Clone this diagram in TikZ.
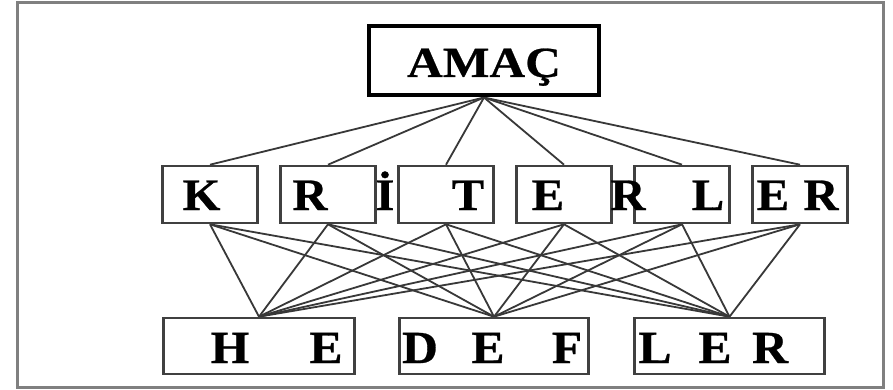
\documentclass[tikz,border=0pt]{standalone}
\usepackage{fontspec}
\setmainfont{Liberation Serif}
\newfontfamily\amacfont[FakeStretch=1.15,FakeBold=0.6]{Liberation Serif}
\newfontfamily\letterfont[FakeStretch=1.08,FakeBold=0.6]{Liberation Serif}
\begin{document}
\begin{tikzpicture}[x=1pt,y=-1pt,
  topbox/.style={draw=black,line width=4pt,fill=white,minimum width=230pt,minimum height=69pt,inner sep=0pt},
  critbox/.style={draw=black!75,line width=2.6pt,fill=white,minimum width=95pt,minimum height=57pt,inner sep=0pt},
  goalbox/.style={draw=black!75,line width=2.6pt,fill=white,minimum height=56pt,inner sep=0pt},
  link/.style={draw=black!78,line width=1.8pt},
  ltr/.style={anchor=base,inner sep=0pt,font=\letterfont\bfseries\fontsize{45}{45}\selectfont},
  gltr/.style={anchor=base,inner sep=0pt,font=\letterfont\bfseries\fontsize{46}{46}\selectfont}]
\useasboundingbox (0,0) rectangle (893,390);
\fill[white] (0,0) rectangle (893,390);
\draw[black!50,line width=3pt] (17,3) rectangle (883,387);
% box positions (used as connector anchors)
\node[topbox] (amac) at (484,61) {};
\node[critbox] (k1) at (210,194.5) {};
\node[critbox] (k2) at (328,194.5) {};
\node[critbox] (k3) at (446,194.5) {};
\node[critbox] (k4) at (564,194.5) {};
\node[critbox] (k5) at (682,194.5) {};
\node[critbox] (k6) at (800,194.5) {};
\node[goalbox,minimum width=191pt] (h1) at (259,346) {};
\node[goalbox,minimum width=189pt] (h2) at (494,346) {};
\node[goalbox,minimum width=190pt] (h3) at (729.5,346) {};
% connectors
\foreach \k in {k1,k2,k3,k4,k5,k6}{
  \draw[link] (amac.south) -- (\k.north);
  \foreach \h in {h1,h2,h3}{
    \draw[link] (\k.south) -- (\h.north);
  }
}
% boxes again, above the connectors
\node[topbox] (amacb) at (484,61) {};
\foreach \n/\x in {c1/210,c2/328,c3/446,c4/564,c5/682,c6/800}{
  \node[critbox] (\n) at (\x,194.5) {};
}
\node[goalbox,minimum width=191pt] (g1) at (259,346) {};
\node[goalbox,minimum width=189pt] (g2) at (494,346) {};
\node[goalbox,minimum width=190pt] (g3) at (729.5,346) {};
% texts
\node[anchor=base,inner sep=0pt,font=\amacfont\bfseries\fontsize{43}{43}\selectfont] (tamac) at (484,77) {AMAÇ};
\node[ltr] (t1) at (201.5,210) {K};
\node[ltr] (t2) at (310,210) {R};
\node[ltr] (t3) at (385,210) {İ};
\node[ltr] (t4) at (468,210) {T};
\node[ltr] (t5) at (548,210) {E};
\node[ltr] (t6) at (628,210) {R};
\node[ltr] (t7) at (708,210) {L};
\node[ltr] (t8) at (773,210) {E};
\node[ltr] (t9) at (821,210) {R};
\node[gltr] (u1) at (230,363) {H};
\node[gltr] (u2) at (326,363) {E};
\node[gltr] (u3) at (420,363) {D};
\node[gltr] (u4) at (488,363) {E};
\node[gltr] (u5) at (567,363) {F};
\node[gltr] (u6) at (655,363) {L};
\node[gltr] (u7) at (715,363) {E};
\node[gltr] (u8) at (770,363) {R};
\end{tikzpicture}
\end{document}
